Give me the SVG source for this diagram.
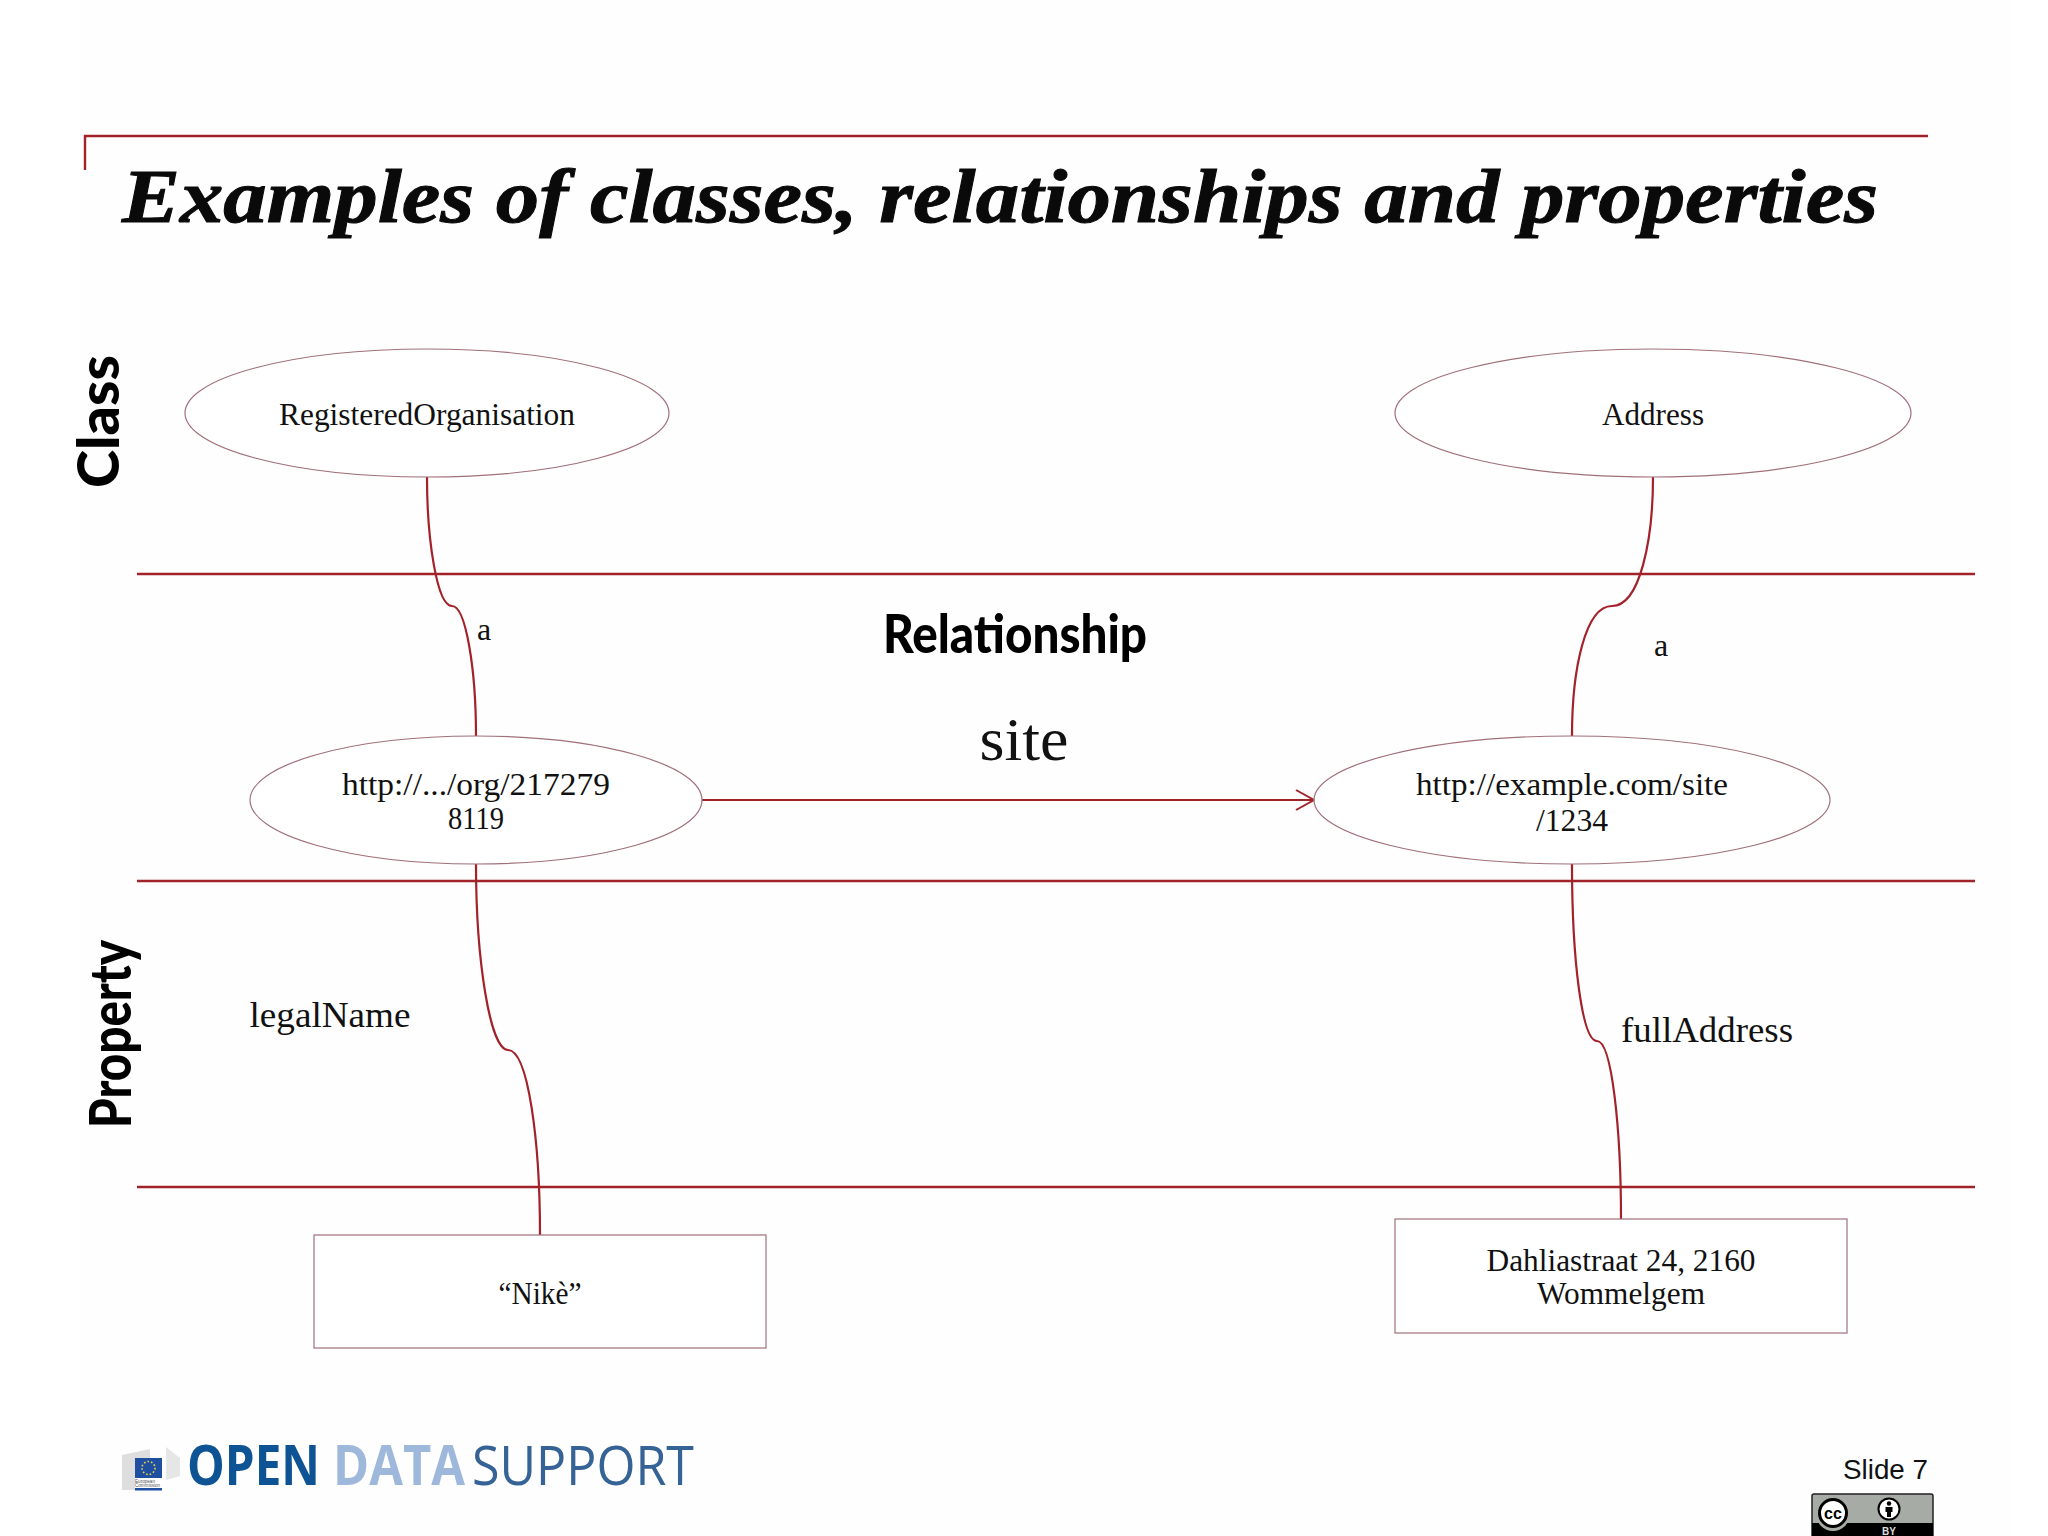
<svg xmlns="http://www.w3.org/2000/svg" width="2048" height="1536" viewBox="0 0 2048 1536">
<style>
.rule{stroke:#a2222a;stroke-width:2.4;fill:none}
.conn{stroke:#a2222a;stroke-width:2.2;fill:none}
.node{fill:#fff;stroke:#a0707a;stroke-width:1.2}
.t{font-family:"Liberation Serif","Times New Roman",serif;fill:#111;text-anchor:middle;font-size:32px}
.lbl{font-size:36px}
.big{font-size:62px}
.hand{font-family:Lato,"Liberation Sans",sans-serif;font-weight:900;fill:#000}
.logo{font-family:"Open Sans","Noto Sans",sans-serif;font-size:55px}
.ec{font-family:"Liberation Sans",sans-serif;font-size:5px;fill:#555}
</style>
<defs>
<marker id="arrow" markerUnits="userSpaceOnUse" markerWidth="24" markerHeight="24" refX="19" refY="11" orient="auto">
<path d="M1 1 L19 11 L1 21" fill="none" stroke="#a2222a" stroke-width="2"/>
</marker>
</defs>
<rect width="2048" height="1536" fill="#fff"/>
<rect x="80" y="0" width="1930" height="1536" fill="#fefefe"/>
<g id="frame">
<path class="rule" d="M85 170V136H1928"/>
<path class="rule" d="M137 574H1975M137 881H1975M137 1187H1975"/>
</g>
<text id="title" x="122" y="222" textLength="1756" lengthAdjust="spacingAndGlyphs" font-family="Liberation Serif,serif" font-weight="700" font-style="italic" font-size="76" fill="#0a0a0a" stroke="#0a0a0a" stroke-width="1">Examples of classes, relationships and properties</text>
<g id="lane-labels">
<text class="hand" transform="translate(119 488) rotate(-90)" font-size="58" textLength="133" lengthAdjust="spacingAndGlyphs">Class</text>
<text class="hand" transform="translate(131 1128) rotate(-90)" font-size="58" textLength="188" lengthAdjust="spacingAndGlyphs">Property</text>
<text class="hand" x="883" y="653" font-size="54" textLength="264" lengthAdjust="spacingAndGlyphs">Relationship</text>
</g>
<g id="connectors">
<path class="conn" d="M427 477C427 540 437 606 452 606C466 606 476 670 476 736"/>
<path class="conn" d="M1653 477C1653 540 1640 606 1612 606C1585 606 1572 670 1572 736"/>
<path class="conn" d="M476 864C476 960 490 1050 508 1050C528 1050 540 1140 540 1235"/>
<path class="conn" d="M1572 864C1572 960 1582 1041 1597 1041C1612 1041 1621 1130 1621 1219"/>
<path class="conn" d="M702 800H1314" marker-end="url(#arrow)"/>
<text class="t" x="484" y="640">a</text>
<text class="t" x="1661" y="656">a</text>
<text class="t big" x="1024" y="760" textLength="89" lengthAdjust="spacingAndGlyphs">site</text>
<text class="t lbl" x="330" y="1027" textLength="161" lengthAdjust="spacingAndGlyphs">legalName</text>
<text class="t lbl" x="1707" y="1042" textLength="172" lengthAdjust="spacingAndGlyphs">fullAddress</text>
</g>
<g id="node-registered-organisation">
<ellipse class="node" cx="427" cy="413" rx="242" ry="64"/>
<text class="t" x="427" y="425" textLength="296" lengthAdjust="spacingAndGlyphs">RegisteredOrganisation</text>
</g>
<g id="node-address">
<ellipse class="node" cx="1653" cy="413" rx="258" ry="64"/>
<text class="t" x="1653" y="425" textLength="102" lengthAdjust="spacingAndGlyphs">Address</text>
</g>
<g id="node-org">
<ellipse class="node" cx="476" cy="800" rx="226" ry="64"/>
<text class="t" x="476" y="795" textLength="268" lengthAdjust="spacingAndGlyphs">http://.../org/217279</text>
<text class="t" x="476" y="829" textLength="56" lengthAdjust="spacingAndGlyphs">8119</text>
</g>
<g id="node-site">
<ellipse class="node" cx="1572" cy="800" rx="258" ry="64"/>
<text class="t" x="1572" y="795" textLength="312" lengthAdjust="spacingAndGlyphs">http://example.com/site</text>
<text class="t" x="1572" y="831" textLength="72" lengthAdjust="spacingAndGlyphs">/1234</text>
</g>
<g id="node-nike">
<rect class="node" x="314" y="1235" width="452" height="113"/>
<text class="t" x="540" y="1304" textLength="83" lengthAdjust="spacingAndGlyphs">“Nikè”</text>
</g>
<g id="node-full-address">
<rect class="node" x="1395" y="1219" width="452" height="114"/>
<text class="t" x="1621" y="1271" textLength="269" lengthAdjust="spacingAndGlyphs">Dahliastraat 24, 2160</text>
<text class="t" x="1621" y="1304" textLength="168" lengthAdjust="spacingAndGlyphs">Wommelgem</text>
</g>
<g id="logo">
<path d="M122 1455L150 1449V1490H122Z" fill="#dedede"/>
<path d="M166 1447L180 1458V1476L166 1480Z" fill="#e6e6e6"/>
<rect x="135" y="1458" width="27" height="20" fill="#1f4fa0"/>
<circle cx="148.500" cy="1468" r="6.500" fill="none" stroke="#e8d24a" stroke-width="1.600" stroke-dasharray="1.600 2"/>
<rect x="135" y="1478" width="27" height="10" fill="#fff"/>
<rect x="135" y="1488" width="27" height="2.500" fill="#1f4fa0"/>
<text class="ec" x="135" y="1482.500" textLength="20" lengthAdjust="spacingAndGlyphs">European</text>
<text class="ec" x="135" y="1487" textLength="25" lengthAdjust="spacingAndGlyphs">Commission</text>
<text class="logo" x="187" y="1485" font-weight="700" fill="#0e5394" textLength="133" lengthAdjust="spacingAndGlyphs">OPEN</text>
<text class="logo" x="333" y="1485" font-weight="700" fill="#9db8da" textLength="132" lengthAdjust="spacingAndGlyphs">DATA</text>
<text class="logo" x="472" y="1485" font-weight="400" fill="#366396" textLength="222" lengthAdjust="spacingAndGlyphs">SUPPORT</text>
</g>
<text id="slide-number" x="1843" y="1479" font-family="Liberation Sans,Arial,sans-serif" font-size="28.500" fill="#111" textLength="85" lengthAdjust="spacingAndGlyphs">Slide 7</text>
<g id="cc-badge">
<rect x="1812" y="1494" width="121" height="44" rx="2" fill="#a7aba5" stroke="#222" stroke-width="1.500"/>
<rect x="1812" y="1523" width="121" height="13" fill="#000"/>
<circle cx="1833" cy="1514" r="17" fill="#a7aba5"/>
<circle cx="1833" cy="1513" r="13.500" fill="#fff" stroke="#000" stroke-width="3"/>
<text x="1833" y="1519" text-anchor="middle" font-family="Liberation Sans,sans-serif" font-weight="700" font-size="16" fill="#000">cc</text>
<circle cx="1889" cy="1509" r="10.500" fill="#fff" stroke="#000" stroke-width="2"/>
<circle cx="1889" cy="1503.500" r="2.200" fill="#000"/>
<path d="M1885.500 1507H1892.500V1512H1891V1517H1887V1512H1885.500Z" fill="#000"/>
<text x="1889" y="1535" text-anchor="middle" font-family="Liberation Sans,sans-serif" font-weight="700" font-size="10" fill="#ddd">BY</text>
</g>
</svg>
